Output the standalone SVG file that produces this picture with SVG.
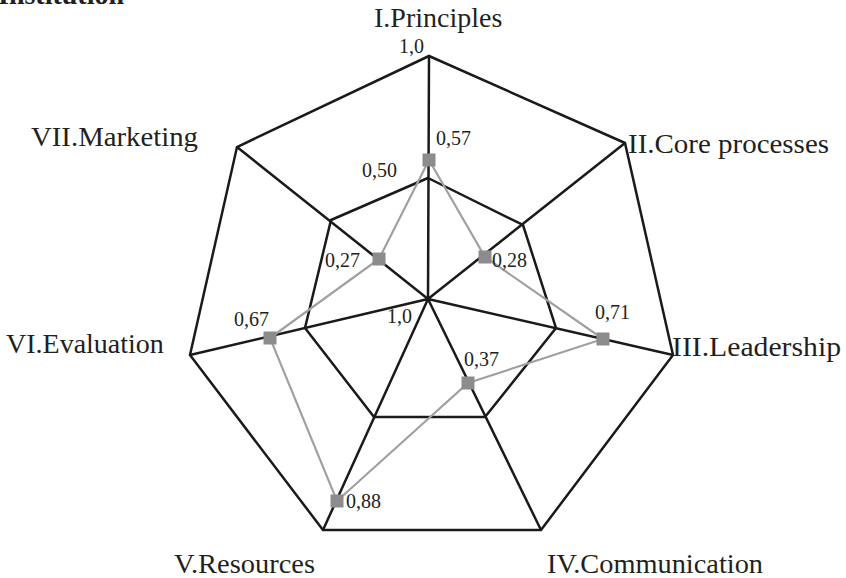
<svg xmlns="http://www.w3.org/2000/svg" width="846" height="578" viewBox="0 0 846 578">
<style>
.grid{fill:none;stroke:#1a1a1a;stroke-width:2.5;stroke-linejoin:miter}
.data{fill:none;stroke:#a0a0a0;stroke-width:2.2}
.pt{fill:#8c8c8e}
text{font-family:'Liberation Serif','Times New Roman','DejaVu Serif',serif;fill:#231f20}
.ax{font-size:28px}
.val{font-size:20px}
.ttl{font-size:28px;font-weight:bold}
</style>
<rect width="846" height="578" fill="#ffffff"/>
<text class="ttl" x="-2" y="4">Institution</text>
<g id="connectors">
  <polygon class="grid" points="429,56 625,143 673,355 541,530 323,530 190,355 237,147"/>
  <polygon class="grid" points="428,178 523,225 556,328 485,417 374,417 305,328 331,220"/>
  <path class="grid" d="M428,299 L429,56 M428,299 L625,143 M428,299 L673,355 M428,299 L541,530 M428,299 L323,530 M428,299 L190,355 M428,299 L237,147"/>
  <polygon class="data" points="429,160 485,257 603,339 468,383 337,501 270,338 379,259"/>
</g>
<g id="axis-I"><text class="ax" x="374" y="27">I.Principles</text><text class="val" x="399" y="53">1,0</text></g>
<g id="axis-II"><text class="ax" x="628" y="153" textLength="201" lengthAdjust="spacingAndGlyphs">II.Core processes</text></g>
<g id="axis-III"><text class="ax" x="672" y="356" textLength="169" lengthAdjust="spacingAndGlyphs">III.Leadership</text></g>
<g id="axis-IV"><text class="ax" x="547" y="573" textLength="216" lengthAdjust="spacingAndGlyphs">IV.Communication</text></g>
<g id="axis-V"><text class="ax" x="174" y="573" textLength="141" lengthAdjust="spacingAndGlyphs">V.Resources</text></g>
<g id="axis-VI"><text class="ax" x="6" y="353">VI.Evaluation</text></g>
<g id="axis-VII"><text class="ax" x="31" y="146" textLength="167" lengthAdjust="spacingAndGlyphs">VII.Marketing</text></g>
<g id="center"><text class="val" x="387" y="323">1,0</text></g>
<g id="mid-label"><text class="val" x="362" y="177">0,50</text></g>
<g id="p1"><rect class="pt" x="422.5" y="153.5" width="13" height="13"/><text class="val" x="436" y="145">0,57</text></g>
<g id="p2"><rect class="pt" x="478.5" y="250.5" width="13" height="13"/><text class="val" x="492" y="267">0,28</text></g>
<g id="p3"><rect class="pt" x="596.5" y="332.5" width="13" height="13"/><text class="val" x="595" y="319">0,71</text></g>
<g id="p4"><rect class="pt" x="461.5" y="376.5" width="13" height="13"/><text class="val" x="464" y="366">0,37</text></g>
<g id="p5"><rect class="pt" x="330.5" y="494.5" width="13" height="13"/><text class="val" x="346" y="508">0,88</text></g>
<g id="p6"><rect class="pt" x="263.5" y="331.5" width="13" height="13"/><text class="val" x="234" y="326">0,67</text></g>
<g id="p7"><rect class="pt" x="372.5" y="252.5" width="13" height="13"/><text class="val" x="325" y="267">0,27</text></g>
</svg>
